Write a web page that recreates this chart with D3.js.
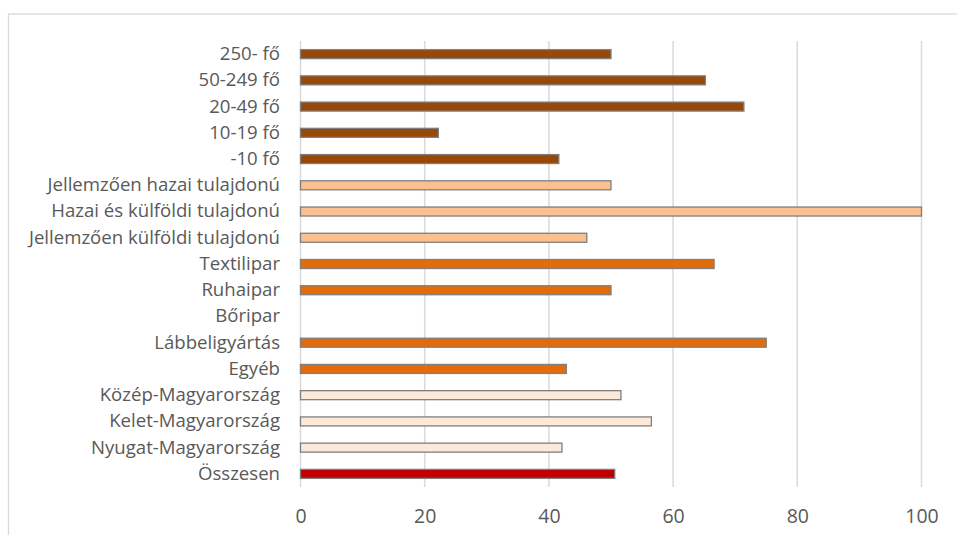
<!DOCTYPE html>
<html><head><meta charset="utf-8">
<script src="https://cdn.jsdelivr.net/npm/d3@7"></script>
<style>body{margin:0;background:#fff}svg{display:block}</style>
</head><body>
<script>
const categories = ["250- fő","50-249 fő","20-49 fő","10-19 fő","-10 fő",
  "Jellemzően hazai tulajdonú","Hazai és külföldi tulajdonú","Jellemzően külföldi tulajdonú",
  "Textilipar","Ruhaipar","Bőripar","Lábbeligyártás","Egyéb",
  "Közép-Magyarország","Kelet-Magyarország","Nyugat-Magyarország","Összesen"];
const values = [50.0,65.2,71.4,22.2,41.6, 50.0,100,46.1, 66.6,50.0,0,75.0,42.8, 51.6,56.5,42.1,50.6];
const groups = ["size","size","size","size","size","own","own","own","ind","ind","ind","ind","ind","reg","reg","reg","total"];
const groupColors = {size:"#984807", own:"#FAC090", ind:"#E36C09", reg:"#FDE9D9", total:"#C00000"};
const tickValues = [0,20,40,60,80,100];

const W=957,H=535;
const svg=d3.select("body").append("svg").attr("width",W).attr("height",H);
svg.append("rect").attr("x",8.5).attr("y",14).attr("width",W).attr("height",H)
  .attr("fill","none").attr("stroke","#D9D9D9").attr("stroke-width",1.3);

const x=d3.scaleLinear().domain([0,100]).range([300.5,921.5]);
const y=d3.scaleBand().domain(categories).range([41,487]).paddingInner(0.657).paddingOuter(0.3285);

svg.append("g").selectAll("line").data(tickValues).join("line")
  .attr("x1",d=>x(d)).attr("x2",d=>x(d)).attr("y1",41).attr("y2",487)
  .attr("stroke","#D9D9D9").attr("stroke-width",1.5);

svg.append("g").selectAll("rect").data(categories.map((c,i)=>({c,v:values[i],g:groups[i]})).filter(d=>d.v>0)).join("rect")
  .attr("x",x(0)).attr("y",d=>y(d.c)).attr("width",d=>x(d.v)-x(0)).attr("height",y.bandwidth())
  .attr("fill",d=>groupColors[d.g]).attr("stroke","#7F7F7F").attr("stroke-width",1.3);

const ya=svg.append("g").attr("transform","translate(301,0)")
  .call(d3.axisLeft(y).tickSize(0).tickPadding(21));
ya.select(".domain").remove();
ya.selectAll("text").attr("font-family","'Open Sans', sans-serif").attr("font-size","18.6px").attr("fill","#595959");

const xa=svg.append("g").attr("transform","translate(0,487)")
  .call(d3.axisBottom(x).tickValues(tickValues).tickSize(0).tickPadding(22));
xa.select(".domain").remove();
xa.selectAll("text").attr("font-family","'Open Sans', sans-serif").attr("font-size","19.5px").attr("fill","#595959");
</script>
</body></html>
